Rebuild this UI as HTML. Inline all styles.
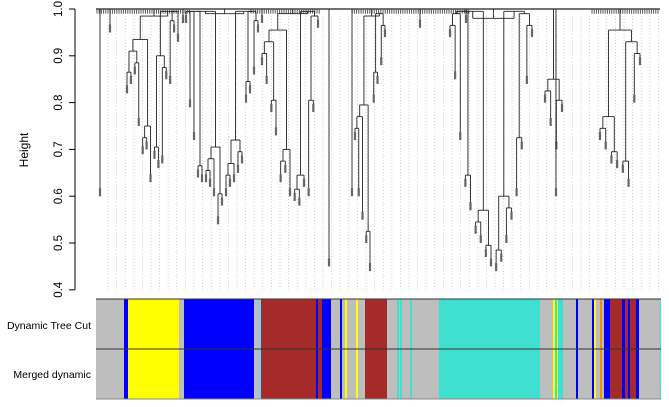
<!DOCTYPE html>
<html><head><meta charset="utf-8"><style>
html,body{margin:0;padding:0;background:#fff;}
svg{display:block;font-family:"Liberation Sans",Arial,sans-serif;}
</style></head><body>
<svg id="chart" width="669" height="407" viewBox="0 0 669 407">
<g id="grid"></g>
<g id="tree"></g>
<g id="axis"></g>
<text transform="translate(28,150) rotate(-90)" text-anchor="middle" font-size="12" fill="#000">Height</text>
<g id="bars"></g>
<text x="91" y="329" text-anchor="end" font-size="10.5" fill="#000">Dynamic Tree Cut</text>
<text x="91" y="378" text-anchor="end" font-size="10.5" fill="#000">Merged dynamic</text>
</svg>
<script>
const ticks=[0.4,0.5,0.6,0.7,0.8,0.9,1.0];
const clusterX=[[127,178],[186,258],[262,318],[355,385],[450,532],[545,562],[600,640]];
const clusterTop=[0.985,0.99,0.99,0.985,0.98,0.97,0.975];
const clusterLeaves=[
[0.82,0.84,0.86,0.75,0.69,0.70,0.63,0.68,0.66,0.67,0.85,0.84,0.95,0.93],
[0.97,0.79,0.72,0.64,0.63,0.63,0.62,0.60,0.54,0.58,0.6,0.62,0.63,0.65,0.67,0.8,0.82,0.86,0.95],
[0.88,0.84,0.78,0.73,0.63,0.65,0.6,0.59,0.58,0.62,0.6,0.78,0.96],
[0.72,0.6,0.55,0.5,0.44,0.8,0.84,0.88,0.94],
[0.94,0.85,0.72,0.62,0.57,0.52,0.5,0.47,0.45,0.44,0.46,0.5,0.55,0.6,0.7,0.84,0.94],
[0.8,0.75,0.7,0.78],
[0.72,0.7,0.67,0.66,0.65,0.62,0.80,0.88]];
const singleX=[100,110,329,352,183,262,420,466,556];
const singleH=[0.6,0.95,0.45,0.6,0.97,0.97,0.96,0.97,0.6];
const barStart=[96,124,128,179,184,186,254,258,261,316,318,322,331,340,342,345,347,356,358,365,387,397,399,400,402,410,412,439,540,553,555,557,558,563,576,578,592,594,596,600,602,604,610,622,625,628,630,636,639,660];
const barColor=["#bebebe","#0000ff","#ffff00","#bebebe","#0000ff","#0000ff","#bebebe","#87ceeb","#a52a2a","#0000ff","#a52a2a","#0000ff","#bebebe","#0000ff","#bebebe","#ffff00","#bebebe","#ffff00","#bebebe","#a52a2a","#bebebe","#40e0d0","#bebebe","#40e0d0","#bebebe","#40e0d0","#bebebe","#40e0d0","#bebebe","#ffff00","#40e0d0","#ffff00","#40e0d0","#bebebe","#0000ff","#bebebe","#0000ff","#ffff00","#bebebe","#ff8c00","#bebebe","#0000ff","#a52a2a","#0000ff","#a52a2a","#0000ff","#a52a2a","#0000ff","#bebebe","#40e0d0"];
const NS="http://www.w3.org/2000/svg";
function y(h){return 9+(1-h)*468;}
function mk(tag,attrs,parent){const e=document.createElementNS(NS,tag);for(const k in attrs)e.setAttribute(k,attrs[k]);parent.appendChild(e);return e;}
const axis=document.getElementById('axis'),tree=document.getElementById('tree'),grid=document.getElementById('grid'),bars=document.getElementById('bars');
let a=mk('line',{x1:75,x2:75,y1:y(1),y2:y(0.4),stroke:'#000','stroke-width':1},axis);


ticks.forEach(t=>{
 let l=mk('line',{x1:69,x2:75,y1:y(t),y2:y(t),stroke:'#000'},axis);
 
 
 let tx=mk('text',{transform:`translate(62,${y(t)}) rotate(-90)`,'text-anchor':'middle','font-size':11.5,fill:'#000'},axis);
 tx.textContent=t.toFixed(1);
 
 
});
for(let gx=108;gx<660;gx+=8.6){
 let l=mk('line',{x1:gx,x2:gx,y1:y(0.985),y2:y(0.4),stroke:'#c4c4c4','stroke-width':0.8,'stroke-dasharray':'1,2'},grid);
 
 
}
mk('line',{x1:96,x2:660,y1:y(1),y2:y(1),stroke:'#222','stroke-width':1.2},tree);
for(let sx=97;sx<660;sx+=2.2){
 if(sx>190&&sx<250||sx>320&&sx<350||sx>470&&sx<540||sx>520&&sx<590)continue;
 mk('line',{x1:sx,x2:sx,y1:y(1),y2:y(0.99),stroke:'#555','stroke-width':1},tree);
}
function leafMark(x,h){mk('rect',{x:x-1.1,y:y(h)-8,width:2.2,height:8,fill:'#666'},tree);}
function line(x1,y1,x2,y2){mk('line',{x1,y1,x2,y2,stroke:'#222','stroke-width':0.9},tree);}
function build(xs,hs,lo,hi){
 if(lo===hi)return{x:xs[lo],h:hs[lo],leaf:true};
 const m=Math.floor((lo+hi)/2);
 const L=build(xs,hs,lo,m),R=build(xs,hs,m+1,hi);
 const h=Math.min(0.995,Math.max(L.h,R.h)+0.025);
 return{x:(L.x+R.x)/2,h,L,R};
}
function draw(n,top){
 if(n.leaf){line(n.x,y(top),n.x,y(n.h));leafMark(n.x,n.h);return;}
 line(n.x,y(top),n.x,y(n.h));
 line(n.L.x,y(n.h),n.R.x,y(n.h));
 draw(n.L,n.h);draw(n.R,n.h);
}
clusterX.forEach((cx,i)=>{
 const hs=clusterLeaves[i],n=hs.length;
 const xs=hs.map((_,j)=>cx[0]+(cx[1]-cx[0])*j/(n-1));
 const root=build(xs,hs,0,n-1);
 root.h=Math.min(root.h,clusterTop[i]);
 draw(root,1.0);
});
singleX.forEach((sx,i)=>{line(sx,y(1),sx,y(singleH[i]));leafMark(sx,singleH[i]);});
for(let r=0;r<2;r++){
 const top=r?349:299;
 barStart.forEach((s,i)=>{
  const e=i<barStart.length-1?barStart[i+1]:661;
  let b=mk('rect',{x:s,y:top,width:Math.max(1,e-s),height:50,fill:barColor[i]},bars);
  
  
 });
}
mk('line',{x1:96,x2:661,y1:299,y2:299,stroke:'#333','stroke-width':1},bars);
mk('line',{x1:96,x2:661,y1:349,y2:349,stroke:'#333','stroke-width':1},bars);
mk('line',{x1:96,x2:661,y1:399,y2:399,stroke:'#888','stroke-width':1},bars);
</script>
</body></html>
